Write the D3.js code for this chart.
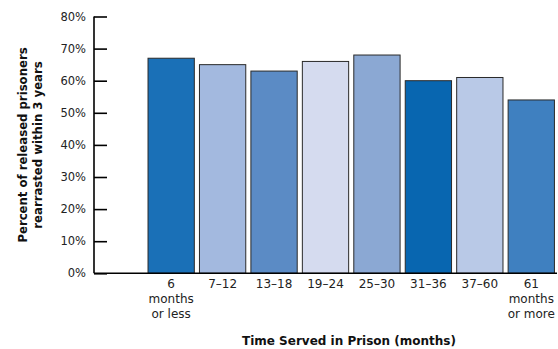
<!DOCTYPE html>
<html>
<head>
<meta charset="utf-8">
<script src="https://cdn.jsdelivr.net/npm/d3@7/dist/d3.min.js"></script>
<style>
  html, body { margin: 0; padding: 0; background: #fff; }
  svg { display: block; font-family: "DejaVu Sans", "Liberation Sans", Arial, sans-serif; }
</style>
</head>
<body>
<svg id="chart" width="558" height="349"></svg>
<script>
// Time-served groups (first slot is left empty next to the axis)
const categories = ["", "6|months|or less", "7–12", "13–18", "19–24", "25–30", "31–36", "37–60", "61|months|or more"];
// Percent rearrested within 3 years
const values = [null, 67, 65, 63, 66, 68, 60, 61, 54];
const barColors = [null, "#1a70b7", "#a3b9df", "#5b8bc5", "#d5dbef", "#8ba8d3", "#0866b0", "#b9c9e7", "#3f80c0"];
const yTicks = [0, 10, 20, 30, 40, 50, 60, 70, 80];

const svg = d3.select("#chart");
const plotLeft = 94, plotRight = 557, plotTop = 16.5, plotBottom = 273.3;

const x = d3.scaleBand().domain(categories).range([plotLeft, plotRight]).paddingInner(0.1).paddingOuter(0.05);
const y = d3.scaleLinear().domain([0, 80]).range([plotBottom, plotTop]);

const data = categories.map((c, i) => ({ c, v: values[i], color: barColors[i] })).filter(d => d.v != null);

// Bars
svg.append("g").selectAll("rect").data(data).join("rect")
  .attr("x", d => x(d.c))
  .attr("y", d => y(d.v))
  .attr("width", x.bandwidth())
  .attr("height", d => y(0) - y(d.v))
  .attr("fill", d => d.color)
  .attr("stroke", "#2a2a2a")
  .attr("stroke-width", 1);

// Y axis with inward ticks
const yAxis = d3.axisRight(y).tickValues(yTicks).tickSize(13).tickFormat(() => "");
const gy = svg.append("g").attr("transform", `translate(${plotLeft},0)`).call(yAxis);
gy.select(".domain").remove();
gy.selectAll(".tick line").attr("stroke", "#000").attr("stroke-width", 1.6);
svg.append("line").attr("x1", plotLeft).attr("x2", plotLeft).attr("y1", plotTop).attr("y2", plotBottom)
  .attr("stroke", "#000").attr("stroke-width", 1.6);

// Y tick labels
svg.append("g").selectAll("text").data(yTicks).join("text")
  .attr("x", 86).attr("y", d => y(d)).attr("dy", "0.36em")
  .attr("text-anchor", "end").attr("font-size", 11.5).attr("fill", "#222")
  .text(d => d + "%");

// Baseline
svg.append("line").attr("x1", plotLeft).attr("x2", plotRight).attr("y1", plotBottom).attr("y2", plotBottom)
  .attr("stroke", "#000").attr("stroke-width", 1.6);

// X category labels
const xl = svg.append("g").selectAll("text").data(categories.filter(c => c)).join("text")
  .attr("text-anchor", "middle").attr("font-size", 12).attr("fill", "#222")
  .attr("transform", d => `translate(${x(d) + x.bandwidth() / 2},288)`);
xl.selectAll("tspan").data(d => d.split("|")).join("tspan")
  .attr("x", 0).attr("y", (d, i) => i * 15).text(d => d);

// Axis titles
svg.append("text").attr("x", 349).attr("y", 345).attr("text-anchor", "middle")
  .attr("font-size", 12).attr("font-weight", "bold").attr("fill", "#111")
  .text("Time Served in Prison (months)");

const yt = svg.append("text").attr("transform", `translate(27,145) rotate(-90)`)
  .attr("text-anchor", "middle").attr("font-size", 11.7).attr("font-weight", "bold").attr("fill", "#111");
yt.append("tspan").attr("x", 0).attr("y", 0).text("Percent of released prisoners");
yt.append("tspan").attr("x", 0).attr("y", 15).text("rearrasted within 3 years");
</script>
</body>
</html>
